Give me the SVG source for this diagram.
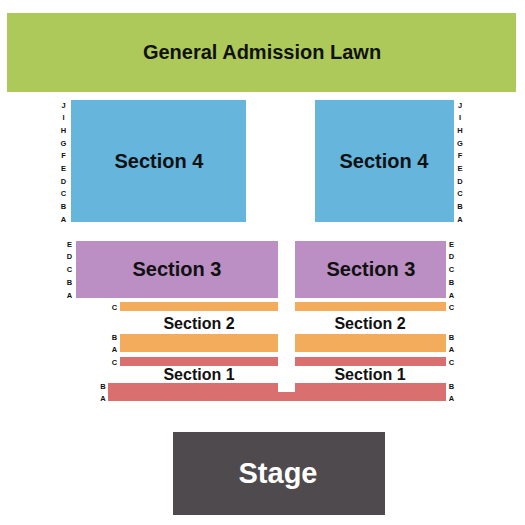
<svg xmlns="http://www.w3.org/2000/svg" width="525" height="525" viewBox="0 0 525 525">
<style>
text{font-family:"Liberation Sans",Arial,sans-serif;font-weight:bold;text-anchor:middle}
.lbl{font-size:20px;fill:#111}
.lbl2{font-size:16px;fill:#111}
.row{font-size:7.5px;fill:#111}
.lawn{fill:#adc95a}.s4{fill:#66b5dd}.s3{fill:#bb8fc3}.s2{fill:#f2ac5b}.s1{fill:#d9706f}.stage{fill:#4e4a4e}
</style>
<rect width="525" height="525" fill="#fff"/>
<g id="lawn"><rect class="lawn" x="7" y="13" width="509" height="79"/><text class="lbl" x="262" y="59">General Admission Lawn</text></g>
<g id="section4-left"><rect class="s4" x="71" y="100" width="175" height="122"/><text class="lbl" x="159" y="168">Section 4</text>
<g class="row"><text class="row" x="63.5" y="107.7">J</text><text class="row" x="63.5" y="120.4">I</text><text class="row" x="63.5" y="133">H</text><text class="row" x="63.5" y="145.7">G</text><text class="row" x="63.5" y="158.3">F</text><text class="row" x="63.5" y="171">E</text><text class="row" x="63.5" y="183.7">D</text><text class="row" x="63.5" y="196.3">C</text><text class="row" x="63.5" y="209">B</text><text class="row" x="63.5" y="221.7">A</text></g></g>
<g id="section4-right"><rect class="s4" x="315" y="100" width="139" height="122"/><text class="lbl" x="384" y="168">Section 4</text>
<g><text class="row" x="460" y="107.7">J</text><text class="row" x="460" y="120.4">I</text><text class="row" x="460" y="133">H</text><text class="row" x="460" y="145.7">G</text><text class="row" x="460" y="158.3">F</text><text class="row" x="460" y="171">E</text><text class="row" x="460" y="183.7">D</text><text class="row" x="460" y="196.3">C</text><text class="row" x="460" y="209">B</text><text class="row" x="460" y="221.7">A</text></g></g>
<g id="section3-left"><rect class="s3" x="76" y="241" width="202" height="57"/><text class="lbl" x="177" y="276">Section 3</text>
<text class="row" x="69.5" y="246.7">E</text><text class="row" x="69.5" y="259.3">D</text><text class="row" x="69.5" y="272.3">C</text><text class="row" x="69.5" y="285">B</text><text class="row" x="69.5" y="297.7">A</text></g>
<g id="section3-right"><rect class="s3" x="295" y="241" width="151" height="57"/><text class="lbl" x="371" y="276">Section 3</text>
<text class="row" x="451.5" y="246.7">E</text><text class="row" x="451.5" y="259.3">D</text><text class="row" x="451.5" y="272.3">C</text><text class="row" x="451.5" y="285">B</text><text class="row" x="451.5" y="297.7">A</text></g>
<g id="section2-left"><rect class="s2" x="120" y="302" width="158" height="9"/><rect class="s2" x="120" y="334" width="158" height="18"/><text class="lbl2" x="199" y="329">Section 2</text>
<text class="row" x="114.5" y="310">C</text><text class="row" x="114.5" y="340">B</text><text class="row" x="114.5" y="352">A</text></g>
<g id="section2-right"><rect class="s2" x="295" y="302" width="151" height="9"/><rect class="s2" x="295" y="334" width="151" height="18"/><text class="lbl2" x="370" y="329">Section 2</text>
<text class="row" x="451.5" y="310">C</text><text class="row" x="451.5" y="340">B</text><text class="row" x="451.5" y="352">A</text></g>
<g id="section1"><rect class="s1" x="120" y="357" width="158" height="9"/><rect class="s1" x="295" y="357" width="151" height="9"/>
<polygon class="s1" points="108,383 278,383 278,392 295,392 295,383 446,383 446,401 108,401"/>
<text class="lbl2" x="199" y="380">Section 1</text><text class="lbl2" x="370" y="380">Section 1</text>
<text class="row" x="114.5" y="365">C</text><text class="row" x="103" y="389">B</text><text class="row" x="103" y="400.7">A</text>
<text class="row" x="451.5" y="365">C</text><text class="row" x="451.5" y="389">B</text><text class="row" x="451.5" y="400.7">A</text></g>
<g id="stage"><rect class="stage" x="173" y="432" width="212" height="83"/><text x="278" y="483" style="font-size:29px;fill:#fff">Stage</text></g>
<g id="connectors"></g>
</svg>
